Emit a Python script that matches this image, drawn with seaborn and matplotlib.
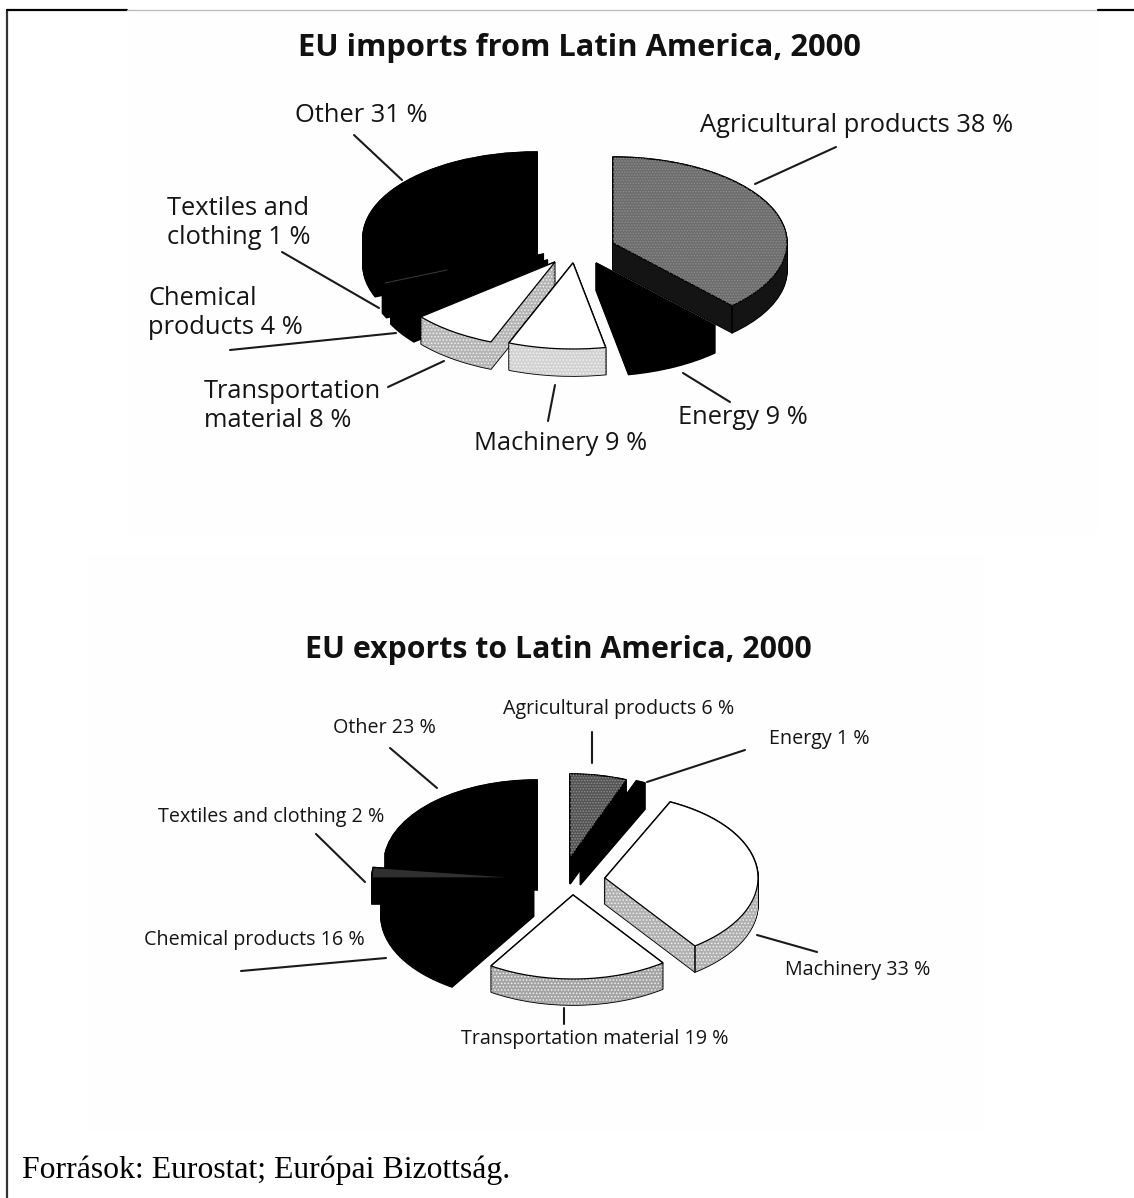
import numpy as np
import matplotlib
matplotlib.use("Agg")
import matplotlib.pyplot as plt
from matplotlib.patches import Rectangle
import seaborn as sns

# Shares in percent, clockwise from twelve o'clock
categories = ["Agricultural products", "Energy", "Machinery", "Transportation material",
              "Chemical products", "Textiles and clothing", "Other"]
imports_share = [38, 9, 9, 8, 4, 1, 31]
exports_share = [6, 1, 33, 19, 16, 2, 23]

W, H = 1134, 1198
sns.set_theme(style="white")
plt.rcParams["font.family"] = ["Open Sans", "DejaVu Sans"]
plt.rcParams["hatch.linewidth"] = 0.7

fig = plt.figure(figsize=(W / 100, H / 100), dpi=100, facecolor="white")
page = fig.add_axes([0, 0, 1, 1], zorder=5)
page.set_xlim(0, W)
page.set_ylim(H, 0)
page.axis("off")
page.patch.set_alpha(0)


def exploded_pie(values, radius, squash, depth, centers, tops, sides, grain, order):
    """Tilted pie: stacked copies of the same pie give the wall of each slice."""
    ax = fig.add_axes([0, 0, 1, 1], zorder=1)
    n = len(values)

    def layer(level):
        wedges, _ = ax.pie(values, startangle=90, counterclock=False, radius=radius)
        for w, (cx, cy) in zip(wedges, centers):
            w.set_center((cx, (H - cy - level) / squash))
        return wedges

    for level in range(depth, -1, -1):
        for w, rank in zip(layer(level), order):
            w.set(facecolor="black", edgecolor="black", linewidth=1.2, zorder=rank * 10)
        for w, rank, col in zip(layer(level), order, sides):
            w.set(facecolor=col, edgecolor=col, linewidth=0, zorder=rank * 10 + 1)

    # Speckled wall texture at mid height of the stack
    for level in range(depth - 1, 1, -3):
        for w, rank, col, g in zip(layer(level), order, sides, grain):
            w.set(facecolor=col, edgecolor="#f4f4f4" if g else col, linewidth=0,
                  hatch="....." if g else None, zorder=rank * 10 + 2, alpha=1)

    # Front corners where a wall turns
    ends = np.cumsum(values) / 100 * 2 * np.pi
    for i in range(n):
        cx, cy = centers[i]
        a = ends[i]
        px = cx + radius * np.sin(a)
        py = cy - radius * squash * np.cos(a)
        if np.cos(a) < 0 and np.sin(a) > 0:
            ax.plot([px, px], [(H - py) / squash, (H - py - depth) / squash],
                    color="black", lw=1.1, zorder=order[i] * 10 + 3)

    # Top faces
    for w, rank, col in zip(layer(0), order, tops):
        w.set(facecolor=col, edgecolor="black", linewidth=0.9, zorder=rank * 10 + 4)
    for w, rank, col in zip(layer(0), order, tops):
        if col == "#6c6c6c" or col == "#545454":
            w.set(facecolor="none", edgecolor="#8e8e8e", linewidth=0,
                  hatch="......", zorder=rank * 10 + 5)
        else:
            w.set_visible(False)

    ax.set_aspect("auto")
    ax.set_xlim(0, W)
    ax.set_ylim(0, H / squash)
    ax.axis("off")
    return ax


exploded_pie(
    imports_share, radius=174, squash=86 / 174, depth=27,
    centers=[(613, 243), (596, 263), (573, 263), (555, 262), (548, 260), (544, 254), (537, 238)],
    tops=["#6c6c6c", "black", "white", "white", "black", "black", "black"],
    sides=["#141414", "black", "#d2d2d2", "#b4b4b4", "black", "black", "black"],
    grain=[False, False, True, True, False, False, False],
    order=[4, 5, 7, 6, 3, 2, 1],
)
exploded_pie(
    exports_share, radius=153, squash=84 / 153, depth=26,
    centers=[(570, 858), (580, 859), (605, 878), (573, 895), (534, 890), (525, 878), (537, 864)],
    tops=["#545454", "black", "white", "white", "black", "#303030", "black"],
    sides=["black", "black", "#b0b0b0", "#a4a4a4", "black", "black", "black"],
    grain=[False, False, True, True, False, False, False],
    order=[4, 5, 6, 7, 3, 2, 1],
)

# Faint scan tone behind each chart
fig.patches.extend([
    Rectangle((128 / W, 1 - 535 / H), 970 / W, 523 / H, transform=fig.transFigure,
              facecolor="#fefefe", edgecolor="none", zorder=0),
    Rectangle((88 / W, 1 - 1130 / H), 897 / W, 575 / H, transform=fig.transFigure,
              facecolor="#fefefe", edgecolor="none", zorder=0),
])

# Page frame
page.plot([6.5, 6.5], [10, H], color="#333333", lw=1.6, clip_on=False)
page.plot([6.5, 127], [10, 10], color="black", lw=1.6)
page.plot([127, 1098], [9.5, 9.5], color="#bdbdbd", lw=1)
page.plot([1098, W], [10, 10], color="black", lw=1.6)

# Titles and source
page.text(579, 48, "EU imports from Latin America, 2000", fontsize=22.2, fontweight="bold",
          ha="center", va="center", color="#111111")
page.text(558.5, 650, "EU exports to Latin America, 2000", fontsize=21.8, fontweight="bold",
          ha="center", va="center", color="#111111")
page.text(22, 1170, "Források: Eurostat; Európai Bizottság.", fontsize=22.9,
          family=["Liberation Serif"], ha="left", va="center", color="black")

# Slice labels
big = 18.4
small = 14.25
labels_top = [
    (295, 115, "Other 31 %"),
    (700, 126, "Agricultural products 38 %"),
    (167, 223, "Textiles and\nclothing 1 %"),
    (148, 313, "Chemical\nproducts 4 %"),
    (204, 406, "Transportation\nmaterial 8 %"),
    (474, 444, "Machinery 9 %"),
    (678, 418, "Energy 9 %"),
]
labels_bottom = [
    (503, 709, "Agricultural products 6 %"),
    (769, 739, "Energy 1 %"),
    (333, 728, "Other 23 %"),
    (158, 817, "Textiles and clothing 2 %"),
    (144, 940, "Chemical products 16 %"),
    (785, 970, "Machinery 33 %"),
    (461, 1039, "Transportation material 19 %"),
]
for x, y, s in labels_top:
    page.text(x, y, s, fontsize=big, ha="left", va="center", linespacing=1.2, color="#151515")
for x, y, s in labels_bottom:
    page.text(x, y, s, fontsize=small, ha="left", va="center", color="#151515")

# Leader lines
leaders = [
    ((354, 135), (402, 180)), ((836, 147), (755, 184)), ((282, 252), (379, 308)),
    ((230, 350), (396, 333)), ((388, 387), (444, 361)), ((548, 421), (555, 385)),
    ((683, 373), (730, 402)),
    ((592, 732), (592, 763)), ((745, 750), (647, 782)), ((390, 748), (437, 788)),
    ((316, 834), (365, 882)), ((241, 971), (386, 958)), ((757, 935), (817, 952)),
    ((564, 1008), (564, 1024)),
]
for (x0, y0), (x1, y1) in leaders:
    page.plot([x0, x1], [y0, y1], color="#1a1a1a", lw=1.5)

# Thin seam visible on the black slices of the upper pie
page.plot([385, 447], [283, 270], color="#3c3c3c", lw=0.7)

sns.despine(ax=page, left=True, bottom=True)
fig.savefig("out.png", dpi=100, facecolor="white")
